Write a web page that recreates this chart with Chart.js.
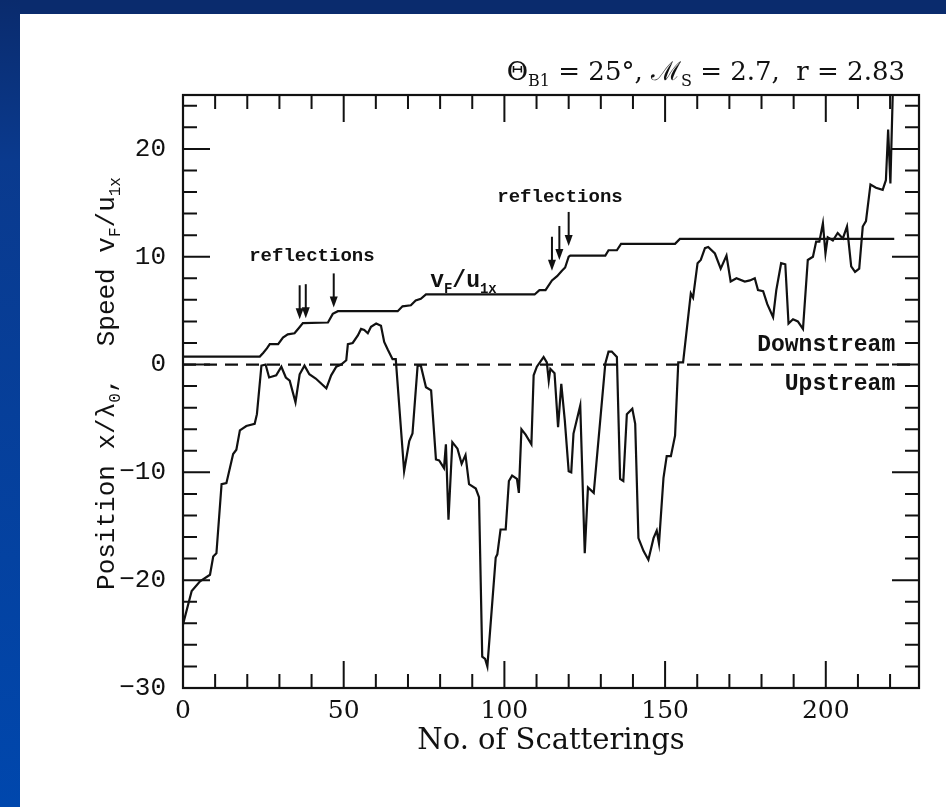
<!DOCTYPE html>
<html>
<head>
<meta charset="utf-8">
<script src="https://cdn.jsdelivr.net/npm/chart.js@4/dist/chart.umd.min.js"></script>
<style>
  html, body { margin: 0; padding: 0; background: #fff; }
  #wrap { position: relative; width: 946px; height: 807px; overflow: hidden; background: #fff; }
  .band-top { position: absolute; left: 0; top: 0; width: 946px; height: 14px; background: #0a2b6d; }
  .band-left { position: absolute; left: 0; top: 0; width: 20px; height: 807px;
    background: linear-gradient(#0a2b6d, #0a3a8e 20%, #0047ad 100%); }
  canvas { position: absolute; left: 0; top: 0; }
</style>
</head>
<body>
<div id="wrap">
  <div class="band-top"></div>
  <div class="band-left"></div>
  <canvas id="scatterChart" width="946" height="807"></canvas>
</div>
<script>
// particle position x/lambda0 against number of scatterings
var scatterN = [0, 2.7, 5.3, 8.4, 9.4, 10.4, 12.0, 13.5, 15.6, 16.6, 17.7, 19.7, 22.3, 23.0, 24.4, 25.7,
  26.8, 29.0, 30.6, 32.0, 33.2, 35.0, 36.3, 37.8, 39.3, 41.3, 44.6, 46.1, 47.7, 49.2, 50.8, 51.3,
  52.8, 54.4, 55.4, 56.4, 57.5, 58.5, 60.1, 61.6, 62.6, 63.7, 65.2, 66.2, 68.8, 70.4, 71.4, 73.0,
  74.0, 75.6, 77.2, 78.7, 79.7, 81.2, 81.8, 82.6, 83.8, 85.4, 86.7, 87.9, 89.0, 91.1, 92.1, 93.1,
  94.0, 94.7, 97.3, 97.8, 98.8, 100.4, 101.4, 102.4, 103.9, 104.5, 105.3, 106.6, 108.4, 109.1, 110.1,
  112.2, 113.2, 113.8, 114.3, 115.6, 116.7, 117.7, 118.8, 120.0, 120.8, 121.5, 123.6, 125.0, 126.0,
  127.8, 131.4, 132.4, 133.4, 135.0, 136.0, 137.0, 138.1, 139.8, 140.7, 141.7, 143.3, 144.8, 146.4,
  147.4, 148.1, 149.5, 150.5, 151.8, 153.1, 154.1, 155.6, 158.0, 158.7, 160.1, 161.1, 162.4, 163.4,
  165.5, 167.3, 169.1, 170.4, 172.2, 174.8, 176.4, 177.9, 178.9, 180.5, 181.8, 183.6, 184.6, 186.1,
  187.4, 188.4, 189.8, 191.3, 192.9, 194.4, 196.0, 197.0, 198.0, 199.1, 199.9, 200.6, 202.2, 203.7,
  205.3, 206.6, 207.9, 209.1, 210.4, 211.5, 212.5, 213.9, 215.6, 217.7, 218.7, 219.4, 220.1, 221.0];
var positionX = [-24.1, -21.0, -20.1, -19.5, -17.8, -17.5, -11.1, -11.0, -8.3, -7.9, -6.1, -5.7, -5.5, -4.6, -0.1, 0.0,
  -1.2, -1.0, -0.2, -1.2, -1.5, -3.5, -0.9, -0.1, -0.9, -1.3, -2.2, -1.0, -0.2, 0.0, 0.4, 1.9,
  2.0, 2.7, 3.3, 3.2, 2.9, 3.5, 3.8, 3.6, 2.1, 1.4, 0.5, 0.5, -9.9, -7.1, -6.4, -0.1,
  -0.1, -2.1, -2.4, -8.8, -8.9, -9.6, -7.4, -14.4, -7.2, -7.8, -9.2, -8.4, -11.1, -11.5, -12.3, -27.1,
  -27.3, -28.0, -17.9, -17.6, -15.3, -15.3, -10.8, -10.3, -10.6, -11.9, -6.0, -6.5, -7.4, -1.0, -0.2,
  0.7, 0.2, -1.5, -0.4, -0.8, -5.8, -1.8, -5.2, -9.9, -10.0, -6.4, -3.8, -17.5, -11.4,
  -11.9, 0.1, 1.2, 1.2, 0.7, -10.6, -10.8, -4.6, -4.1, -5.5, -16.1, -17.3, -18.1, -16.1,
  -15.4, -16.6, -10.5, -8.5, -8.5, -6.6, 0.2, 0.2, 6.6, 6.2, 9.4, 9.7, 10.8, 10.9,
  10.3, 8.9, 10.1, 7.7, 8.0, 7.7, 7.8, 8.0, 6.9, 6.8, 5.6, 4.4, 6.9, 9.4,
  9.3, 3.8, 4.2, 4.0, 3.3, 9.7, 10.0, 11.4, 11.4, 13.1, 10.3, 11.8, 11.5, 12.2,
  11.7, 12.8, 9.1, 8.6, 8.9, 12.8, 13.3, 16.7, 16.4, 16.2, 17.1, 21.8, 16.8, 27.0];

// particle speed vF/u1x
var speedN = [0, 23.9, 25.0, 26.1, 27.0, 29.6, 31.1, 32.6, 34.7, 35.8, 37.3, 45.1, 46.6, 48.2,
  66.8, 68.3, 70.9, 72.4, 74.0, 75.6, 109.4, 110.9, 112.8, 114.8, 116.4, 117.9, 118.9, 120.0,
  120.5, 131.4, 132.4, 135.0, 136.3, 153.1, 154.6, 221.3];
var speedV = [0.74, 0.74, 1.1, 1.5, 1.9, 1.9, 2.5, 2.8, 2.9, 3.3, 3.85, 3.9, 4.7, 4.95,
  4.95, 5.4, 5.5, 5.95, 6.1, 6.5, 6.5, 6.9, 6.9, 7.8, 8.2, 8.7, 9.0, 10.0,
  10.1, 10.1, 10.6, 10.6, 11.2, 11.2, 11.65, 11.65];

// reflection events: scattering number and where the arrow points
var reflectionN = [36.3, 38.2, 46.9, 114.8, 117.1, 120.0];
var reflectionTip = [4.2, 4.3, 5.3, 8.7, 9.7, 11.0];

var xMin = 0, xMax = 229, yMin = -30, yMax = 25;

function zip(xs, ys) {
    return xs.map(function (x, i) { return { x: x, y: ys[i] }; });
}

// rich text with subscripts: parts = [[text, isSub], ...]
function drawRich(ctx, parts, x, y, align, font) {
    var subSize = Math.round(font.size * 0.62);
    var total = 0;
    function setFont(p) {
        ctx.font = (font.weight || 'normal') + ' ' + (p[1] ? subSize : font.size) + 'px ' + font.family;
    }
    parts.forEach(function (p) {
        setFont(p);
        total += ctx.measureText(p[0]).width;
    });
    var cx = align === 'right' ? x - total : (align === 'center' ? x - total / 2 : x);
    ctx.textAlign = 'left';
    ctx.textBaseline = 'alphabetic';
    parts.forEach(function (p) {
        setFont(p);
        ctx.fillText(p[0], cx, p[1] ? y + font.size * 0.22 : y);
        cx += ctx.measureText(p[0]).width;
    });
}

// box frame with inward ticks on all four sides
var framePlugin = {
    id: 'frameTicks',
    afterDraw: function (chart) {
        var ctx = chart.ctx, a = chart.chartArea;
        var xs = chart.scales.x, ys = chart.scales.y;
        ctx.save();
        ctx.strokeStyle = '#111';
        ctx.lineWidth = 2.2;
        ctx.strokeRect(a.left, a.top, a.right - a.left, a.bottom - a.top);
        ctx.lineWidth = 2;
        ctx.beginPath();
        for (var v = 10; v < xMax; v += 10) {
            var px = xs.getPixelForValue(v);
            var len = v % 50 === 0 ? 27 : 14;
            ctx.moveTo(px, a.bottom); ctx.lineTo(px, a.bottom - len);
            ctx.moveTo(px, a.top); ctx.lineTo(px, a.top + len);
        }
        for (var w = yMin + 2; w < yMax; w += 2) {
            var py = ys.getPixelForValue(w);
            var l2 = w % 10 === 0 ? 27 : 14;
            ctx.moveTo(a.left, py); ctx.lineTo(a.left + l2, py);
            ctx.moveTo(a.right, py); ctx.lineTo(a.right - l2, py);
        }
        ctx.stroke();
        ctx.restore();
    }
};

// labels, reflection arrows and the two titles with subscripts
var notesPlugin = {
    id: 'notes',
    afterDatasetsDraw: function (chart) {
        var ctx = chart.ctx, a = chart.chartArea;
        var xs = chart.scales.x, ys = chart.scales.y;
        var mono = '"Liberation Mono", "DejaVu Sans Mono", monospace';
        var serif = '"DejaVu Serif", "Liberation Serif", serif';
        ctx.save();
        ctx.fillStyle = '#111';
        ctx.strokeStyle = '#111';

        ctx.lineWidth = 2;
        reflectionN.forEach(function (n, i) {
            var px = xs.getPixelForValue(n);
            var tip = ys.getPixelForValue(reflectionTip[i]);
            ctx.beginPath();
            ctx.moveTo(px, tip - 34);
            ctx.lineTo(px, tip - 6);
            ctx.stroke();
            ctx.beginPath();
            ctx.moveTo(px, tip);
            ctx.lineTo(px - 4, tip - 11);
            ctx.lineTo(px + 4, tip - 11);
            ctx.closePath();
            ctx.fill();
        });

        ctx.font = 'bold 19px ' + mono;
        ctx.textAlign = 'center';
        ctx.textBaseline = 'middle';
        ctx.fillText('reflections', xs.getPixelForValue(40.1), ys.getPixelForValue(10.05));
        ctx.fillText('reflections', xs.getPixelForValue(117.3), ys.getPixelForValue(15.5));

        ctx.font = 'bold 23px ' + mono;
        ctx.textAlign = 'right';
        ctx.fillText('Downstream', xs.getPixelForValue(221.6), ys.getPixelForValue(1.8));
        ctx.fillText('Upstream', xs.getPixelForValue(221.6), ys.getPixelForValue(-1.8));

        drawRich(ctx, [['v', 0], ['F', 1], ['/u', 0], ['1x', 1]],
            xs.getPixelForValue(76.9), ys.getPixelForValue(7.8) + 7, 'left',
            { size: 23, family: mono, weight: 'bold' });

        drawRich(ctx, [['\u0398', 0], ['B1', 1], [' = 25\u00b0, ', 0], ['\u2133', 0], ['S', 1], [' = 2.7,  r = 2.83', 0]],
            a.right - 14, a.top - 15, 'right', { size: 26, family: serif });

        ctx.translate(a.left - 78, (a.top + a.bottom) / 2 - 8);
        ctx.rotate(-Math.PI / 2);
        drawRich(ctx, [['Position x/\u03bb', 0], ['0', 1], [',  Speed v', 0], ['F', 1], ['/u', 0], ['1x', 1]],
            0, 9, 'center', { size: 26, family: mono });
        ctx.restore();
    }
};

var ctx = document.getElementById('scatterChart').getContext('2d');
new Chart(ctx, {
    type: 'line',
    data: {
        datasets: [{
            label: 'position',
            data: zip(scatterN, positionX),
            borderColor: '#111',
            borderWidth: 2.2,
            pointRadius: 0,
            tension: 0
        }, {
            label: 'speed',
            data: zip(speedN, speedV),
            borderColor: '#111',
            borderWidth: 2.2,
            pointRadius: 0,
            tension: 0
        }, {
            label: 'shock',
            data: [{ x: xMin, y: 0 }, { x: xMax, y: 0 }],
            borderColor: '#111',
            borderWidth: 2.2,
            borderDash: [13, 8],
            pointRadius: 0
        }]
    },
    options: {
        responsive: false,
        animation: false,
        layout: { padding: { left: 20, top: 95, right: 27, bottom: 0 } },
        plugins: { legend: { display: false }, tooltip: { enabled: false } },
        scales: {
            x: {
                type: 'linear',
                min: xMin,
                max: xMax,
                afterFit: function (s) { s.height = 119; },
                grid: { display: false, drawTicks: false },
                border: { display: false },
                ticks: {
                    stepSize: 50,
                    includeBounds: false,
                    padding: 8,
                    color: '#111',
                    font: { family: '"DejaVu Serif", serif', size: 25 }
                },
                title: {
                    display: true,
                    text: 'No. of Scatterings',
                    color: '#111',
                    font: { family: '"DejaVu Serif", serif', size: 29 },
                    padding: { top: 0, bottom: 48 }
                }
            },
            y: {
                min: yMin,
                max: yMax,
                afterFit: function (s) { s.width = 163; },
                grid: { display: false, drawTicks: false },
                border: { display: false },
                ticks: {
                    stepSize: 10,
                    includeBounds: false,
                    padding: 17,
                    color: '#111',
                    font: { family: '"Liberation Mono", monospace', size: 26 },
                    callback: function (v) { return v < 0 ? '\u2212' + Math.abs(v) : String(v); }
                }
            }
        }
    },
    plugins: [framePlugin, notesPlugin]
});
</script>
</body>
</html>
